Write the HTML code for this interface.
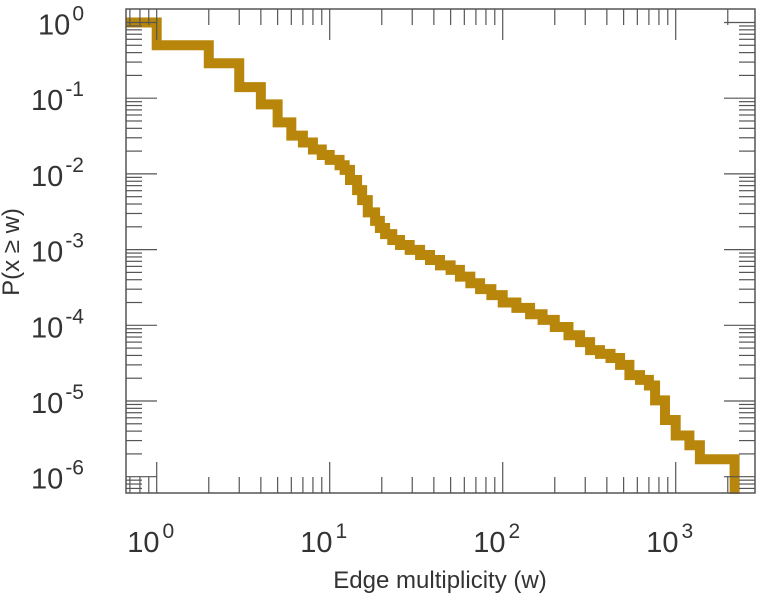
<!DOCTYPE html>
<html><head><meta charset="utf-8"><style>
body{margin:0;background:#fff;}
svg{display:block;font-family:"Liberation Sans",sans-serif;}
</style></head><body>
<svg id="chart" width="768" height="600" viewBox="0 0 768 600"></svg>
<script>
const ws=[1,2,3,4,5,6,7,8,9,10,11.4,12.2,13.1,14.4,15.4,16.6,18.3,19.5,20.9,23,25.5,29,33.3,38,43.4,50,56.6,65,74,86,100,120,144,170,200,240,280,320,365,420,477,540,622,700,760,867,1000,1200,1380,2190];
const ps=[1,0.5,0.29,0.14,0.083,0.048,0.032,0.026,0.021,0.0178,0.0153,0.013,0.0113,0.0083,0.0061,0.0045,0.0031,0.0024,0.00193,0.0016,0.00134,0.00115,0.00099,0.00085,0.00073,0.00062,0.00054,0.00044,0.00036,0.0003,0.00025,0.0002,0.00017,0.00014,0.000118,0.000095,0.000074,0.00006,0.000047,0.000042,0.000037,0.00003,0.000022,0.000019,0.000016,0.0000102,0.0000056,0.0000035,0.0000026,0.0000017];
const xDecades=[0,1,2,3];
const yDecades=[0,-1,-2,-3,-4,-5,-6];
const NS="http://www.w3.org/2000/svg";
const svg=document.getElementById('chart');
const L=126,R=755,T=9,B=493;
const x0=156.7,xd=173,y0=22.5,yd=75.7;
function X(w){return x0+Math.log10(w)*xd;}
function Y(p){return y0-Math.log10(p)*yd;}
function mk(t,a,p){const e=document.createElementNS(NS,t);for(const k in a)e.setAttribute(k,a[k]);(p||svg).appendChild(e);return e;}
let d='M'+L+','+Y(ps[0]);
for(let i=0;i<ws.length;i++){
  if(i>0)d+=' V'+Y(ps[i]);
  d+=' H'+X(ws[i]);
}
d+=' V'+(B+10);
const line=mk('path',{d:d,fill:'none',stroke:'#b8860b','stroke-width':10,'stroke-linejoin':'miter'});


mk('rect',{x:0,y:B+1,width:768,height:110,fill:'#fff'});
mk('rect',{x:0,y:0,width:L,height:600,fill:'#fff'});
const fr=mk('rect',{x:L,y:T,width:R-L,height:B-T,fill:'none',stroke:'#555','stroke-width':1.5});


const tg=mk('g',{stroke:'#555','stroke-width':1.2});


for(let e=-1;e<=3;e++){for(let m=1;m<10;m++){const xx=X(m*Math.pow(10,e));if(xx<L||xx>R)continue;const len=m===1?31:16;
 mk('line',{x1:xx,y1:B,x2:xx,y2:B-len},tg);mk('line',{x1:xx,y1:T,x2:xx,y2:T+len},tg);}}
for(let e=-7;e<=0;e++){for(let m=1;m<10;m++){const yy=Y(m*Math.pow(10,e));if(yy<T||yy>B)continue;const len=m===1?31:16;
 mk('line',{x1:L,y1:yy,x2:L+len,y2:yy},tg);mk('line',{x1:R,y1:yy,x2:R-len,y2:yy},tg);}}
xDecades.forEach(e=>{const t=mk('text',{x:X(Math.pow(10,e))-6,y:552,'font-size':29,fill:'#333','text-anchor':'middle'});
 
 
 t.innerHTML='10<tspan dy="-14" font-size="21" dx="3">'+e+'</tspan>';});
yDecades.forEach(e=>{const t=mk('text',{x:84,y:Y(Math.pow(10,e))+12,'font-size':29,fill:'#333','text-anchor':'end'});
 
 
 t.innerHTML='10<tspan dy="-14" font-size="21" dx="2">'+(e===0?'0':'-'+(-e))+'</tspan>';});
const xt=mk('text',{x:440,y:588,'font-size':24,fill:'#333','text-anchor':'middle'});


xt.textContent='Edge multiplicity (w)';
const yt=mk('text',{x:0,y:0,'font-size':24,fill:'#333','text-anchor':'middle',transform:'translate(19,252) rotate(-90)'});


yt.textContent='P(x ≥ w)';
</script>
</body></html>
